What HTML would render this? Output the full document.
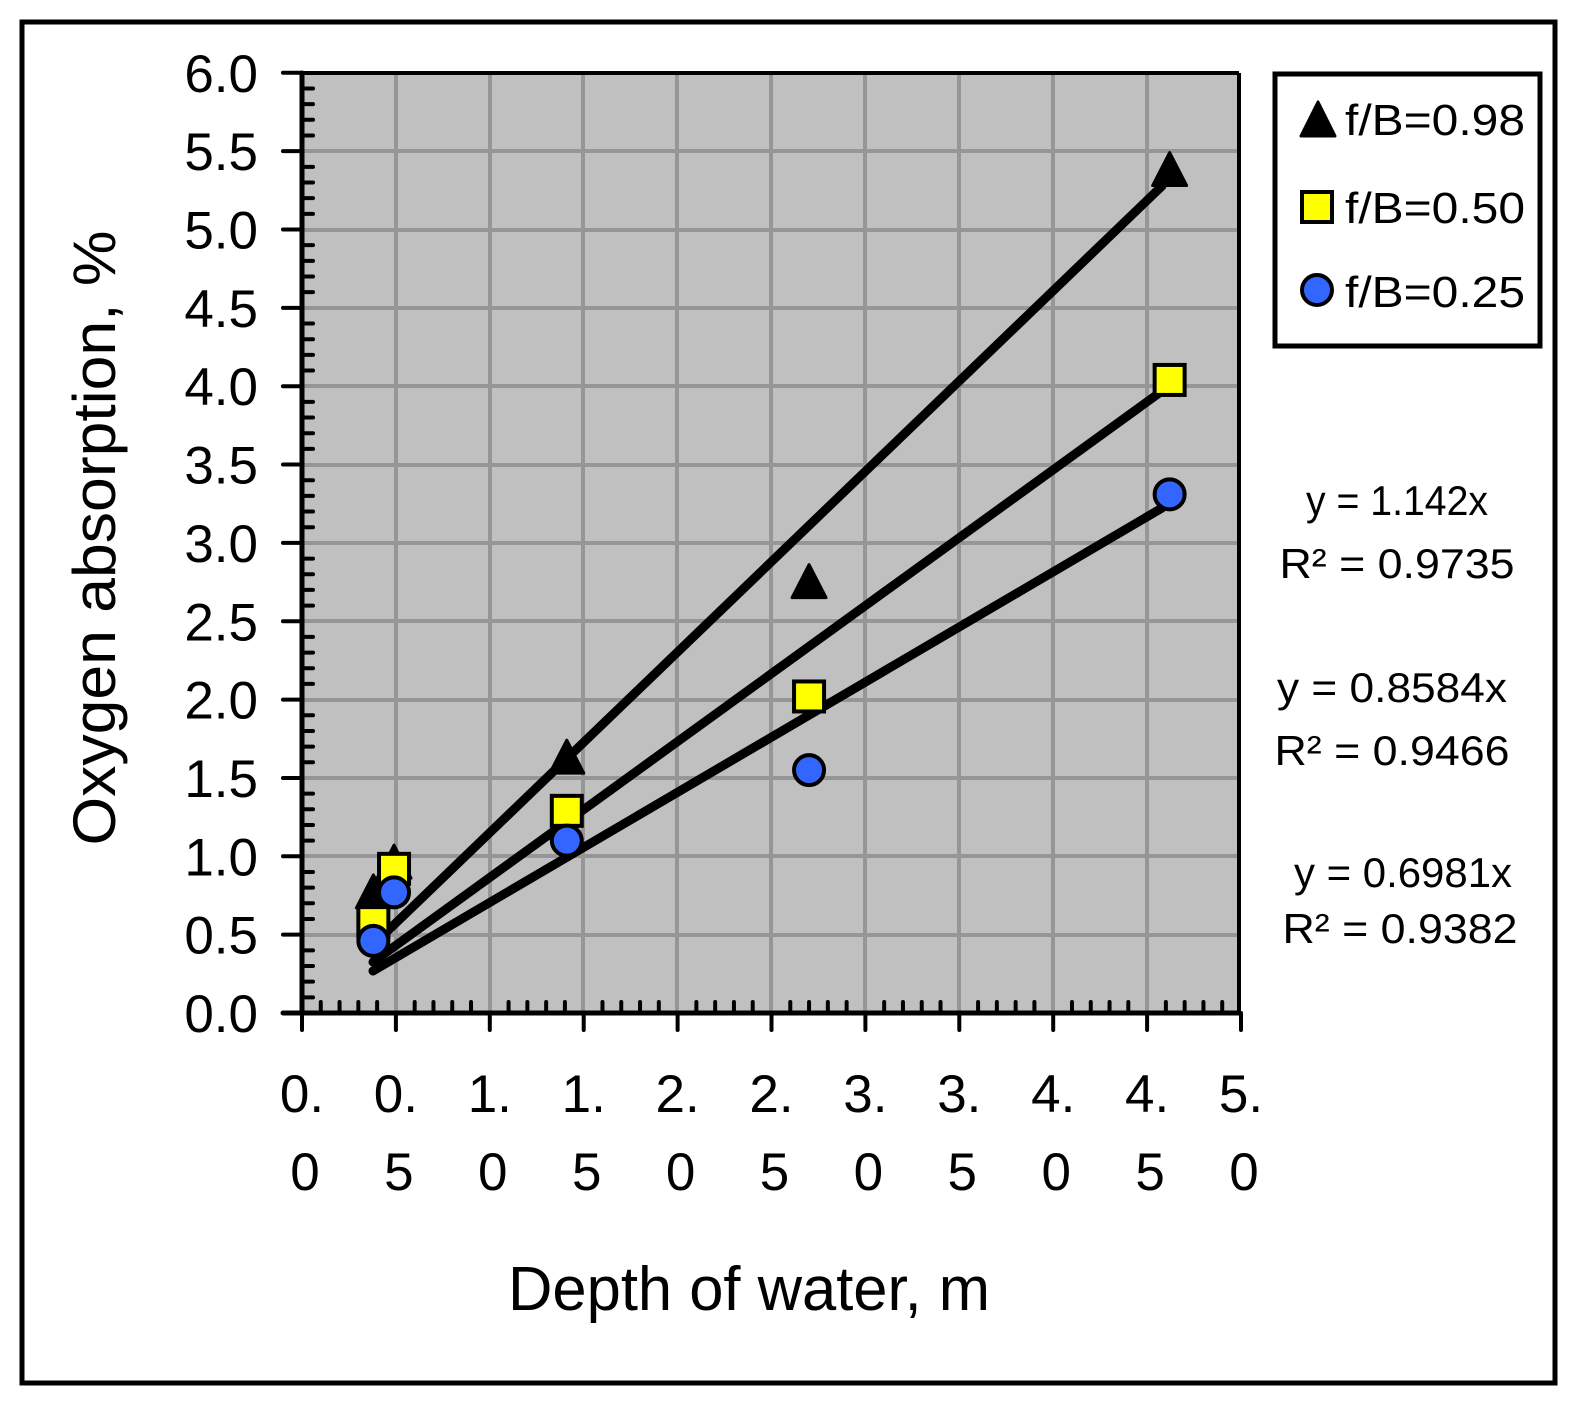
<!DOCTYPE html>
<html><head><meta charset="utf-8"><style>html,body{margin:0;padding:0;background:#fff}svg{display:block}</style></head>
<body>
<svg width="1578" height="1407" viewBox="0 0 1578 1407" xmlns="http://www.w3.org/2000/svg" font-family="Liberation Sans, Arial, sans-serif">
<rect x="0" y="0" width="1578" height="1407" fill="#fff"/>
<rect x="22" y="22" width="1533" height="1361" fill="none" stroke="#000" stroke-width="5"/>
<rect x="302" y="73" width="937" height="940" fill="#c0c0c0"/>
<g stroke="#969696" stroke-width="4">
<line x1="396" y1="73" x2="396" y2="1013"/><line x1="490" y1="73" x2="490" y2="1013"/><line x1="583" y1="73" x2="583" y2="1013"/><line x1="677" y1="73" x2="677" y2="1013"/><line x1="771" y1="73" x2="771" y2="1013"/><line x1="865" y1="73" x2="865" y2="1013"/><line x1="959" y1="73" x2="959" y2="1013"/><line x1="1053" y1="73" x2="1053" y2="1013"/><line x1="1147" y1="73" x2="1147" y2="1013"/>
<line x1="302" y1="935" x2="1239" y2="935"/><line x1="302" y1="856" x2="1239" y2="856"/><line x1="302" y1="778" x2="1239" y2="778"/><line x1="302" y1="700" x2="1239" y2="700"/><line x1="302" y1="621" x2="1239" y2="621"/><line x1="302" y1="543" x2="1239" y2="543"/><line x1="302" y1="465" x2="1239" y2="465"/><line x1="302" y1="386" x2="1239" y2="386"/><line x1="302" y1="308" x2="1239" y2="308"/><line x1="302" y1="230" x2="1239" y2="230"/><line x1="302" y1="151" x2="1239" y2="151"/>
</g>
<g stroke="#000" stroke-width="4" fill="none">
<line x1="302" y1="73" x2="1239" y2="73"/><line x1="1239" y1="73" x2="1239" y2="1013"/>
</g>
<g stroke="#000" stroke-width="5" stroke-linecap="round">
<line x1="302" y1="73" x2="302" y2="1013"/><line x1="283" y1="1013" x2="1239" y2="1013"/>
</g>
<g id="ticks" stroke="#000" stroke-width="4" stroke-linecap="round"></g>
<g stroke="#000" stroke-width="9" stroke-linecap="round">
<line x1="373" y1="945" x2="1162" y2="186"/>
<line x1="373" y1="962" x2="1162" y2="391"/>
<line x1="373" y1="971" x2="1162" y2="508"/>
</g>
<g id="mk"></g>
<g id="labels" font-size="53" fill="#000"></g>
<text x="749" y="1310" font-size="62" text-anchor="middle" textLength="482" lengthAdjust="spacingAndGlyphs">Depth of water, m</text>
<text transform="translate(115,538) rotate(-90)" font-size="60" text-anchor="middle" textLength="615" lengthAdjust="spacingAndGlyphs">Oxygen absorption, %</text>
<rect x="1275" y="74" width="265" height="272" fill="#fff" stroke="#000" stroke-width="5"/>
<polygon points="1318,102 1301,136 1335,136" fill="#000" stroke="#000" stroke-width="3" stroke-linejoin="round"/>
<rect x="1302" y="192" width="30" height="30" fill="#ffff00" stroke="#000" stroke-width="4"/>
<circle cx="1317" cy="290" r="15" fill="#3366ff" stroke="#000" stroke-width="4"/>
<g font-size="44" fill="#000">
<text x="1345" y="135" textLength="180" lengthAdjust="spacingAndGlyphs">f/B=0.98</text>
<text x="1345" y="223" textLength="180" lengthAdjust="spacingAndGlyphs">f/B=0.50</text>
<text x="1345" y="307" textLength="180" lengthAdjust="spacingAndGlyphs">f/B=0.25</text>
</g>
<g font-size="42" fill="#000" text-anchor="middle">
<text x="1397" y="515" textLength="182" lengthAdjust="spacingAndGlyphs">y = 1.142x</text>
<text x="1397" y="578" textLength="235" lengthAdjust="spacingAndGlyphs">R² = 0.9735</text>
<text x="1392" y="702" textLength="230" lengthAdjust="spacingAndGlyphs">y = 0.8584x</text>
<text x="1392" y="765" textLength="235" lengthAdjust="spacingAndGlyphs">R² = 0.9466</text>
<text x="1403" y="887" textLength="218" lengthAdjust="spacingAndGlyphs">y = 0.6981x</text>
<text x="1400" y="943" textLength="235" lengthAdjust="spacingAndGlyphs">R² = 0.9382</text>
</g>
<script>
var ns="http://www.w3.org/2000/svg";
function X(x){return 302+187.8*x}function Y(y){return 1013-156.7*y}
function el(t,a,p){var e=document.createElementNS(ns,t);for(var k in a)e.setAttribute(k,a[k]);p.appendChild(e);return e}
var tk=document.getElementById('ticks');
for(var i=0;i<=50;i++){var x=X(i/10);if(i%5==0){el('line',{x1:x,y1:1013,x2:x,y2:1030},tk)}else{el('line',{x1:x,y1:1013,x2:x,y2:1002},tk)}}
for(var i=0;i<=60;i++){var y=Y(i/10);if(i%5==0){el('line',{x1:283,y1:y,x2:302,y2:y},tk)}else{el('line',{x1:302,y1:y,x2:313,y2:y},tk)}}
var lb=document.getElementById('labels');
for(var i=0;i<=12;i++){var t=el('text',{x:258,y:Y(i/2)+19,'text-anchor':'end'},lb);t.textContent=(i/2).toFixed(1);}
for(var i=0;i<=10;i++){var s=(i/2).toFixed(1);var t=el('text',{x:X(i/2),y:1112,'text-anchor':'middle'},lb);t.textContent=s.slice(0,2);
var t2=el('text',{x:X(i/2)+3,y:1190,'text-anchor':'middle'},lb);t2.textContent=s.slice(2);}
var mk=document.getElementById('mk');
var tri=[[0.38,0.76],[0.49,0.95],[1.41,1.62],[2.70,2.74],[4.62,5.37]];
var sq=[[0.38,0.58],[0.49,0.92],[1.41,1.29],[2.70,2.02],[4.62,4.04]];
var ci=[[0.38,0.46],[0.49,0.77],[1.41,1.10],[2.70,1.55],[4.62,3.31]];
tri.forEach(function(p){var cx=X(p[0]),cy=Y(p[1]);el('polygon',{points:cx+','+(cy-19)+' '+(cx-17)+','+(cy+14)+' '+(cx+17)+','+(cy+14),fill:'#000',stroke:'#000','stroke-width':3,'stroke-linejoin':'round'},mk)});
sq.forEach(function(p){var cx=X(p[0]),cy=Y(p[1]);el('rect',{x:cx-15,y:cy-15,width:30,height:30,fill:'#ffff00',stroke:'#000','stroke-width':4},mk)});
ci.forEach(function(p){var cx=X(p[0]),cy=Y(p[1]);el('circle',{cx:cx,cy:cy,r:15,fill:'#3366ff',stroke:'#000','stroke-width':4},mk)});
</script>
</svg>
</body></html>
